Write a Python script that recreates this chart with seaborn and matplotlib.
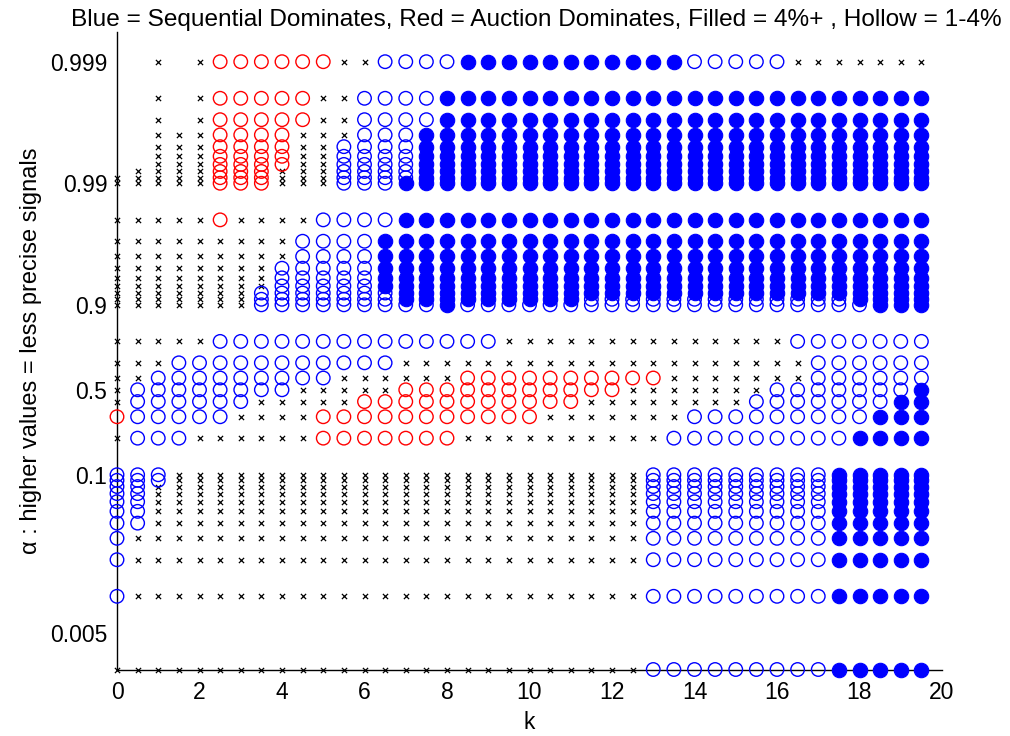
import numpy as np
import pandas as pd
import matplotlib
matplotlib.use("Agg")
import matplotlib.pyplot as plt
import seaborn as sns

# ---------------- data ----------------
k_values = [0.0, 0.5, 1.0, 1.5, 2.0, 2.5, 3.0, 3.5, 4.0, 4.5,
            5.0, 5.5, 6.0, 6.5, 7.0, 7.5, 8.0, 8.5, 9.0, 9.5,
            10.0, 10.5, 11.0, 11.5, 12.0, 12.5, 13.0, 13.5, 14.0, 14.5,
            15.0, 15.5, 16.0, 16.5, 17.0, 17.5, 18.0, 18.5, 19.0, 19.5]

alpha_rows = [0.999, 0.998, 0.997, 0.996, 0.995, 0.994, 0.993, 0.992, 0.991, 0.99,
              0.98, 0.97, 0.96, 0.95, 0.94, 0.93, 0.92, 0.91, 0.90,
              0.8, 0.7, 0.6, 0.5, 0.4, 0.3, 0.2,
              0.1, 0.09, 0.08, 0.07, 0.06, 0.05, 0.04, 0.03, 0.02, 0.01,
              0.0025]

# outcome per (alpha row, k column):
# '.' none, 'x' no dominance, 'r' auction 1-4%, 'o' sequential 1-4%, 'B' sequential 4%+
outcome_rows = [
    "..x.xrrrrrrxxooooBBBBBBBBBBBoooooxxxxxxx",  # 0.999
    "..x.xrrrrrxxooooBBBBBBBBBBBBBBBBBBBBBBBB",  # 0.998
    "..x.xrrrrrxxooooBBBBBBBBBBBBBBBBBBBBBBBB",  # 0.997
    "..xxxrrrrxxxoooBBBBBBBBBBBBBBBBBBBBBBBBB",  # 0.996
    "..xxxrrrrxxooooBBBBBBBBBBBBBBBBBBBBBBBBB",  # 0.995
    "..xxxrrrrxxooooBBBBBBBBBBBBBBBBBBBBBBBBB",  # 0.994
    "..xxxrrrrxxooooBBBBBBBBBBBBBBBBBBBBBBBBB",  # 0.993
    ".xxxxrrrxxxooooBBBBBBBBBBBBBBBBBBBBBBBBB",  # 0.992
    "xxxxxrrrxxxooooBBBBBBBBBBBBBBBBBBBBBBBBB",  # 0.991
    "xxxxxrrrxxxoooBBBBBBBBBBBBBBBBBBBBBBBBBB",  # 0.99
    "xxxxxrxxxxooooBBBBBBBBBBBBBBBBBBBBBBBBBB",  # 0.98
    "xxxxxxxxxooooBBBBBBBBBBBBBBBBBBBBBBBBBBB",  # 0.97
    "xxxxxxxxxooooBBBBBBBBBBBBBBBBBBBBBBBBBBB",  # 0.96
    "xxxxxxxxoooooBBBBBBBBBBBBBBBBBBBBBBBBBBB",  # 0.95
    "xxxxxxxxoooooBBBBBBBBBBBBBBBBBBBBBBBBBBB",  # 0.94
    "xxxxxxxxoooooBBBBBBBBBBBBBBBBBBBBBBBBBBB",  # 0.93
    "xxxxxxxoooooooBBBBBBBBBBBBBBBBBBBBBBBBBB",  # 0.92
    "xxxxxxxoooooooBBBBBBBBBoooooooooooooBBBB",  # 0.91
    "xxxxxxxoooooooooBooooooooooooooooooooBBB",  # 0.90
    "xxxxxooooooooooooooxxxxxxxxxxxxxxooooooo",  # 0.8
    "xxxoooooooooooxxxxxxxxxxxxxxxxxxxxoooooo",  # 0.7
    "xxoooooooooxxxxxxrrrrrrrrrrxxxxxxxoooooo",  # 0.6
    "xooooooooxxxxxrrrrrrrrrrrxxxxxxxoooooooB",  # 0.5
    "xooooooxxxxxrrrrrrrrrrrxxxxxxxxoooooooBB",  # 0.4
    "roooooxxxxrrrrrrrrrrrxxxxxxxoooooooooBBB",  # 0.3
    "xoooxxxxxxrrrrrrrxxxxxxxxxxoooooooooBBBB",  # 0.2
    "oooxxxxxxxxxxxxxxxxxxxxxxxoooooooooBBBBB",  # 0.1
    "oooxxxxxxxxxxxxxxxxxxxxxxxoooooooooBBBBB",  # 0.09
    "ooxxxxxxxxxxxxxxxxxxxxxxxxoooooooooBBBBB",  # 0.08
    "ooxxxxxxxxxxxxxxxxxxxxxxxxoooooooooBBBBB",  # 0.07
    "ooxxxxxxxxxxxxxxxxxxxxxxxxoooooooooBBBBB",  # 0.06
    "ooxxxxxxxxxxxxxxxxxxxxxxxxoooooooooBBBBB",  # 0.05
    "ooxxxxxxxxxxxxxxxxxxxxxxxxoooooooooBBBBB",  # 0.04
    "oxxxxxxxxxxxxxxxxxxxxxxxxxoooooooooBBBBB",  # 0.03
    "oxxxxxxxxxxxxxxxxxxxxxxxxxoooooooooBBBBB",  # 0.02
    "oxxxxxxxxxxxxxxxxxxxxxxxxxoooooooooBBBBB",  # 0.01
    "xxxxxxxxxxxxxxxxxxxxxxxxxxoooooooooBBBBB",  # bottom row
]

y_tick_values = [0.005, 0.1, 0.5, 0.9, 0.99, 0.999]
y_tick_labels = ["0.005", "0.1", "0.5", "0.9", "0.99", "0.999"]
x_tick_values = [0, 2, 4, 6, 8, 10, 12, 14, 16, 18, 20]

title_text = "Blue = Sequential Dominates, Red = Auction Dominates, Filled = 4%+ , Hollow = 1-4%"
y_label = "α : higher values = less precise signals"
x_label = "k"

# ---------------- build long table ----------------
records = []
for a, row in zip(alpha_rows, outcome_rows):
    for kv, code in zip(k_values, row):
        if code != ".":
            records.append({"k": kv, "alpha": a, "code": code})
df = pd.DataFrame(records)

# ---------------- axis scale: log10(2a) below 0.5, -log10(2(1-a)) above ----------------
def fwd(a):
    a = np.clip(np.asarray(a, dtype=float), 1e-9, 1 - 1e-9)
    return np.where(a <= 0.5, np.log10(2 * a), -np.log10(2 * (1 - a)))

def inv(t):
    t = np.asarray(t, dtype=float)
    return np.where(t <= 0, 10.0 ** np.minimum(t, 0) / 2, 1 - 10.0 ** (-np.maximum(t, 0)) / 2)

# ---------------- figure ----------------
sns.set_theme(style="white")
plt.rcParams["font.family"] = ["Liberation Sans", "DejaVu Sans"]

fig = plt.figure(figsize=(10.10, 7.36), dpi=100)
ax = fig.add_axes([117 / 1010, 1 - 669.5 / 736, 825 / 1010, (669.5 - 32) / 736])

styles = {
    "x": dict(marker="x", s=14, color="black", linewidth=0.9),
    "r": dict(marker="o", s=95, facecolors="none", edgecolors="red", linewidth=1.0),
    "o": dict(marker="o", s=95, facecolors="none", edgecolors="blue", linewidth=1.0),
    "B": dict(marker="o", s=108, color="blue", edgecolors="blue", linewidth=0.8),
}
for code in ["x", "r", "o", "B"]:
    sub = df[df["code"] == code]
    sns.scatterplot(data=sub, x="k", y="alpha", ax=ax, legend=False,
                    clip_on=False, zorder=3, **styles[code])

ax.set_yscale("function", functions=(fwd, inv))
ax.set_xlim(0, 20)
t_top = 2.699 + (61.7 - 32) / 121.6
ax.set_ylim(0.0025, float(inv(t_top)))

ax.set_yticks(y_tick_values)
ax.set_yticklabels(y_tick_labels)
ax.set_xticks(x_tick_values)
ax.set_xticklabels([str(v) for v in x_tick_values])
ax.minorticks_off()

for side in ["top", "right"]:
    ax.spines[side].set_visible(False)
for side in ["left", "bottom"]:
    ax.spines[side].set_color("black")
    ax.spines[side].set_linewidth(1.0)

ax.tick_params(axis="both", direction="in", length=6, width=0.9, colors="black",
               labelsize=16.5)
ax.tick_params(axis="y", pad=7)
ax.tick_params(axis="x", pad=8)

ax.set_xlabel(x_label, fontsize=16.5, labelpad=5, color="black")
ax.set_ylabel(y_label, fontsize=17, labelpad=6, color="black")
ax.set_title(title_text, fontsize=17.6, pad=4, x=0.508, color="black")
ax.set_facecolor("white")
fig.patch.set_facecolor("white")

fig.savefig("out.png", dpi=100, facecolor="white")
